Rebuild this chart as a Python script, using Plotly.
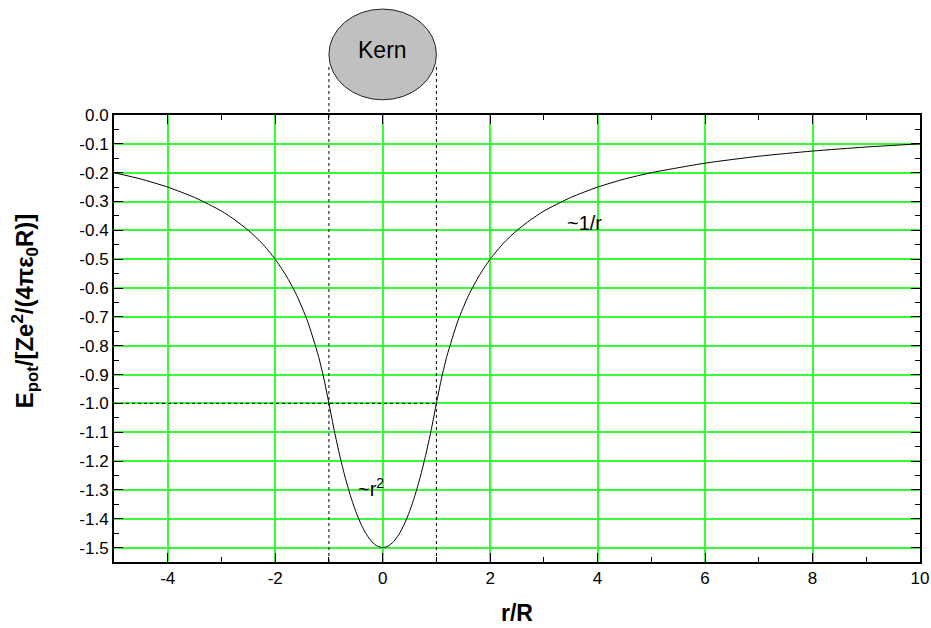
import plotly.graph_objects as go

# r/R positions and potential values
r_vals = [-5, -4.5, -4, -3.5, -3, -2.75, -2.5, -2.25, -2, -1.8, -1.6, -1.4, -1.2, -1.1,
          -1.0, -0.9, -0.8, -0.7, -0.6, -0.5, -0.4, -0.3, -0.2, -0.1, 0,
          0.1, 0.2, 0.3, 0.4, 0.5, 0.6, 0.7, 0.8, 0.9, 1.0,
          1.1, 1.2, 1.4, 1.6, 1.8, 2, 2.25, 2.5, 2.75, 3, 3.5, 4, 4.5, 5, 6, 7, 8, 9, 10]
e_vals = [-0.2, -0.222, -0.25, -0.286, -0.333, -0.364, -0.4, -0.444, -0.5, -0.556, -0.625, -0.714, -0.833, -0.909,
          -1.0, -1.095, -1.18, -1.255, -1.32, -1.375, -1.42, -1.455, -1.48, -1.495, -1.5,
          -1.495, -1.48, -1.455, -1.42, -1.375, -1.32, -1.255, -1.18, -1.095, -1.0,
          -0.909, -0.833, -0.714, -0.625, -0.556, -0.5, -0.444, -0.4, -0.364, -0.333, -0.286, -0.25, -0.222, -0.2,
          -0.167, -0.143, -0.125, -0.111, -0.1]

x_tickvals = [-4, -2, 0, 2, 4, 6, 8, 10]
x_ticktext = ["-4", "-2", "0", "2", "4", "6", "8", "10"]
y_tickvals = [0.0, -0.1, -0.2, -0.3, -0.4, -0.5, -0.6, -0.7, -0.8, -0.9, -1.0,
              -1.1, -1.2, -1.3, -1.4, -1.5]
y_ticktext = ["0.0", "-0.1", "-0.2", "-0.3", "-0.4", "-0.5", "-0.6", "-0.7", "-0.8", "-0.9", "-1.0",
              "-1.1", "-1.2", "-1.3", "-1.4", "-1.5"]

kern_edges = [-1, 1]      # nucleus boundary r/R
ref_level = -1.0          # potential at the nucleus surface
x_range = [-5, 10]
y_range = [-1.55, 0]

FONT = "Liberation Sans, Arial, sans-serif"
GRID = "#33ff33"

fig = go.Figure()
fig.add_trace(go.Scatter(x=r_vals, y=e_vals, mode="lines",
                         line=dict(color="black", width=1, shape="spline", smoothing=0.6),
                         showlegend=False, hoverinfo="skip"))

shapes = []
for xe in kern_edges:
    shapes.append(dict(type="line", xref="x", yref="paper", x0=xe, x1=xe, y0=0, y1=1.11,
                       line=dict(color="black", width=1, dash="3px,3px"), layer="above"))
shapes.append(dict(type="line", xref="x", yref="y", x0=x_range[0], x1=kern_edges[1],
                   y0=ref_level, y1=ref_level,
                   line=dict(color="black", width=1, dash="3px,3px"), layer="above"))
shapes.append(dict(type="circle", xref="x", yref="paper", x0=kern_edges[0], x1=kern_edges[1],
                   y0=1.034, y1=1.237, fillcolor="#c0c0c0",
                   line=dict(color="#222222", width=1), layer="above"))

annotations = [
    dict(text="Kern", x=0, y=1.18, xref="x", yref="paper", showarrow=False,
         font=dict(family=FONT, size=23, color="black")),
    dict(text="~1/r", x=3.75, y=-0.374, xref="x", yref="y", showarrow=False,
         font=dict(family=FONT, size=20, color="black")),
    dict(text="~r<sup>2</sup>", x=-0.22, y=-1.29, xref="x", yref="y", showarrow=False,
         font=dict(family=FONT, size=20, color="black")),
    dict(text="<b>E<sub>pot</sub>/[Ze<sup>2</sup>/(4πε<sub>0</sub>R)]</b>", textangle=-90,
         x=-0.110, y=0.5615, xref="paper", yref="paper", xanchor="center", yanchor="middle",
         showarrow=False, font=dict(family=FONT, size=24, color="black")),
    dict(text="<b>r/R</b>", x=0.5, y=-0.113, xref="paper", yref="paper",
         xanchor="center", yanchor="middle", showarrow=False,
         font=dict(family=FONT, size=23, color="black")),
]

fig.update_layout(
    width=931, height=628,
    margin=dict(l=114, r=11, t=115, b=66),
    paper_bgcolor="white", plot_bgcolor="white",
    font=dict(family=FONT, size=17, color="black"),
    shapes=shapes, annotations=annotations,
    xaxis=dict(range=x_range, tickmode="array", tickvals=x_tickvals, ticktext=x_ticktext,
               showgrid=True, gridcolor=GRID, gridwidth=1.5, automargin=False,
               zeroline=False, showline=True, linecolor="black", linewidth=2, mirror="allticks",
               ticks="inside", ticklen=9, tickwidth=1, tickcolor="black",
               minor=dict(ticks="inside", ticklen=5, dtick=1, tick0=0, tickcolor="black", showgrid=False)),
    yaxis=dict(range=y_range, tickmode="array", tickvals=y_tickvals, ticktext=y_ticktext,
               showgrid=True, gridcolor=GRID, automargin=False,
               gridwidth=1.5, zeroline=False, showline=True, linecolor="black", linewidth=2,
               mirror="allticks", ticks="inside", ticklen=9, tickwidth=1, tickcolor="black",
               minor=dict(ticks="inside", ticklen=5, dtick=0.05, tick0=0, tickcolor="black", showgrid=False)),
)

fig.write_html("out.html", config={"displayModeBar": False},
               post_script="document.body.style.margin='0';document.body.style.overflow='hidden';")
